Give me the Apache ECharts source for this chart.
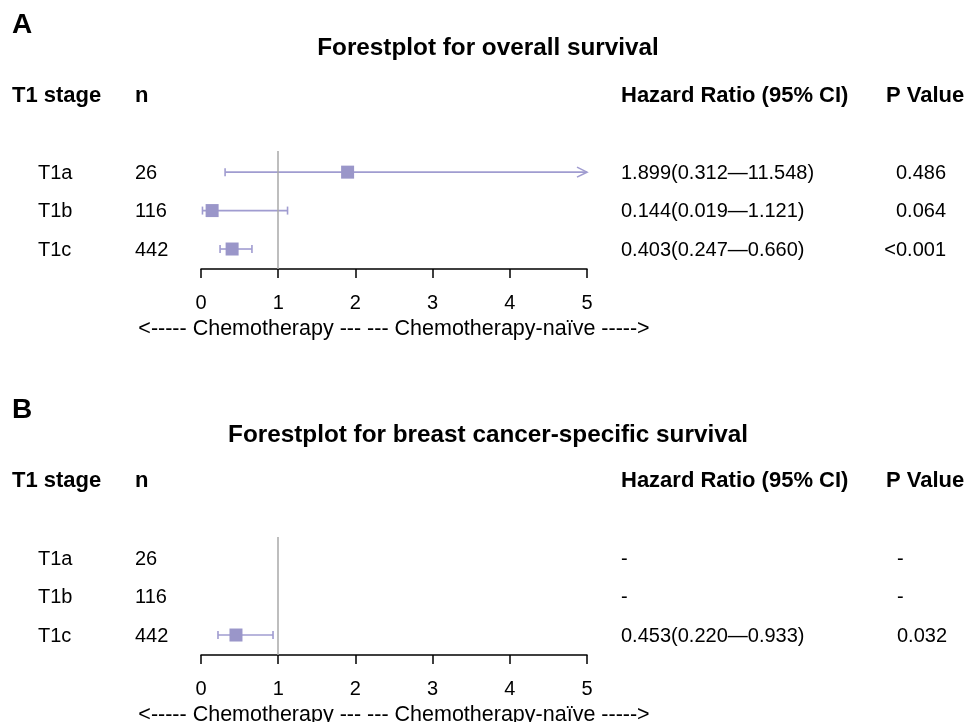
<!DOCTYPE html>
<html>
<head>
<meta charset="utf-8">
<script src="https://cdn.jsdelivr.net/npm/echarts@6/dist/echarts.min.js"></script>
<style>
html,body{margin:0;padding:0;background:#fff;}
#chart{width:972px;height:722px;}
</style>
</head>
<body>
<div id="chart"></div>
<script>
// ---------- data ----------
const stages = ['T1a', 'T1b', 'T1c'];
const nValues = [26, 116, 442];

const osHR = [1.899, 0.144, 0.403];
const osLower = [0.312, 0.019, 0.247];
const osUpper = [11.548, 1.121, 0.660];
const osP = ['0.486', '0.064', '<0.001'];

const bcssHR = [null, null, 0.453];
const bcssLower = [null, null, 0.220];
const bcssUpper = [null, null, 0.933];
const bcssP = ['-', '-', '0.032'];

const xMin = 0, xMax = 5, xStep = 1;
const panelLabels = ['A', 'B'];
const panelTitles = ['Forestplot for overall survival', 'Forestplot for breast cancer-specific survival'];
const headers = ['T1 stage', 'n', 'Hazard Ratio (95% CI)', 'P Value'];
const axisCaption = '<----- Chemotherapy --- --- Chemotherapy-naïve ----->';

// ---------- styling ----------
const FONT = "'Liberation Sans', Arial, Helvetica, sans-serif";
const BOX = '#9a96c9';
const LINE = '#a09cd0';

function hrText(h, l, u) {
  if (h == null) return '-';
  return h.toFixed(3) + '(' + l.toFixed(3) + '\u2014' + u.toFixed(3) + ')';
}

const panels = [
  { hr: osHR, lo: osLower, hi: osUpper, p: osP, top: 151, pAlign: 'right', pX: 946, labelY: 25, titleY: 47, headY: 95 },
  { hr: bcssHR, lo: bcssLower, hi: bcssUpper, p: bcssP, top: 537, pAlign: 'left', pX: 897, labelY: 410, titleY: 434, headY: 480 }
];

const grids = [], xAxes = [], yAxes = [], series = [], graphics = [];

panels.forEach((pn, gi) => {
  grids.push({ left: 201, width: 386, top: pn.top, height: 118, outerBoundsMode: 'none', containLabel: false });
  xAxes.push({
    gridIndex: gi, type: 'value', min: xMin, max: xMax, interval: xStep,
    axisLine: { show: true, lineStyle: { color: '#000', width: 1.5 } },
    axisTick: { show: true, length: 9, lineStyle: { color: '#000', width: 1.5 } },
    axisLabel: { color: '#000', fontSize: 20, fontFamily: FONT, margin: 24 },
    splitLine: { show: false },
    name: axisCaption, nameLocation: 'middle', nameGap: 49,
    nameTextStyle: { color: '#000', fontSize: 21.5, fontFamily: FONT }
  });
  yAxes.push({
    gridIndex: gi, type: 'value', min: 0.45, max: 3.52, inverse: true, show: false
  });

  // reference line at HR = 1
  series.push({
    type: 'line', xAxisIndex: gi, yAxisIndex: gi, data: [], silent: true,
    markLine: {
      symbol: 'none', silent: true, label: { show: false },
      lineStyle: { color: '#a8a8a8', width: 1.5, type: 'solid' },
      data: [{ xAxis: 1 }]
    }
  });

  // CI lines with caps / arrows
  const ciData = [];
  stages.forEach((s, i) => { if (pn.hr[i] != null) ciData.push([pn.lo[i], pn.hi[i], i + 1]); });
  series.push({
    type: 'custom', xAxisIndex: gi, yAxisIndex: gi, silent: true,
    encode: { x: [0, 1], y: 2 },
    data: ciData,
    renderItem: function (params, api) {
      const lo = api.value(0), hi = api.value(1), row = api.value(2);
      const arrowHi = hi > xMax;
      const p1 = api.coord([lo, row]);
      const p2 = api.coord([Math.min(hi, xMax), row]);
      const y = p1[1];
      const cap = 4;
      const st = { stroke: LINE, lineWidth: 1.6, fill: null };
      const children = [
        { type: 'line', shape: { x1: p1[0], y1: y, x2: p2[0], y2: y }, style: st },
        { type: 'line', shape: { x1: p1[0], y1: y - cap, x2: p1[0], y2: y + cap }, style: st }
      ];
      if (arrowHi) {
        children.push({ type: 'polyline', shape: { points: [[p2[0] - 10, y - 5], [p2[0], y], [p2[0] - 10, y + 5]] }, style: st });
      } else {
        children.push({ type: 'line', shape: { x1: p2[0], y1: y - cap, x2: p2[0], y2: y + cap }, style: st });
      }
      return { type: 'group', children: children };
    },
    z: 3
  });

  // point estimate boxes
  const boxData = [];
  stages.forEach((s, i) => { if (pn.hr[i] != null) boxData.push([pn.hr[i], i + 1]); });
  series.push({
    type: 'scatter', xAxisIndex: gi, yAxisIndex: gi, silent: true,
    symbol: 'rect', symbolSize: 13, itemStyle: { color: BOX, opacity: 1 },
    data: boxData, z: 4
  });

  // table text columns
  const cols = [
    { x: 38, align: 'left', text: i => stages[i] },
    { x: 135, align: 'left', text: i => String(nValues[i]) },
    { x: 621, align: 'left', text: i => hrText(pn.hr[i], pn.lo[i], pn.hi[i]) },
    { x: pn.pX, align: pn.pAlign, text: i => pn.p[i] }
  ];
  cols.forEach(c => {
    series.push({
      type: 'custom', xAxisIndex: gi, yAxisIndex: gi, silent: true, clip: false,
      data: stages.map((s, i) => [0, i + 1]),
      encode: { x: 0, y: 1 },
      renderItem: function (params, api) {
        const y = api.coord([0, api.value(1)])[1];
        return {
          type: 'text', x: c.x, y: y + 1,
          style: { text: c.text(params.dataIndex), fill: '#000', font: '20px ' + FONT, align: c.align, verticalAlign: 'middle' }
        };
      }
    });
  });

  // panel label, title, headers
  graphics.push({ type: 'text', x: 12, y: pn.labelY, style: { text: panelLabels[gi], fill: '#000', font: 'bold 28px ' + FONT, align: 'left', verticalAlign: 'middle' } });
  graphics.push({ type: 'text', x: 488, y: pn.titleY + 1, style: { text: panelTitles[gi], fill: '#000', font: 'bold 24.3px ' + FONT, align: 'center', verticalAlign: 'middle' } });
  const headX = [12, 135, 621, 886];
  headers.forEach((h, k) => {
    graphics.push({ type: 'text', x: headX[k], y: pn.headY + 1, style: { text: h, fill: '#000', font: 'bold 22px ' + FONT, align: 'left', verticalAlign: 'middle' } });
  });
});

const chart = echarts.init(document.getElementById('chart'), null, { renderer: 'canvas' });
chart.setOption({
  backgroundColor: '#fff',
  animation: false,
  grid: grids,
  xAxis: xAxes,
  yAxis: yAxes,
  series: series,
  graphic: graphics
});
</script>
</body>
</html>
